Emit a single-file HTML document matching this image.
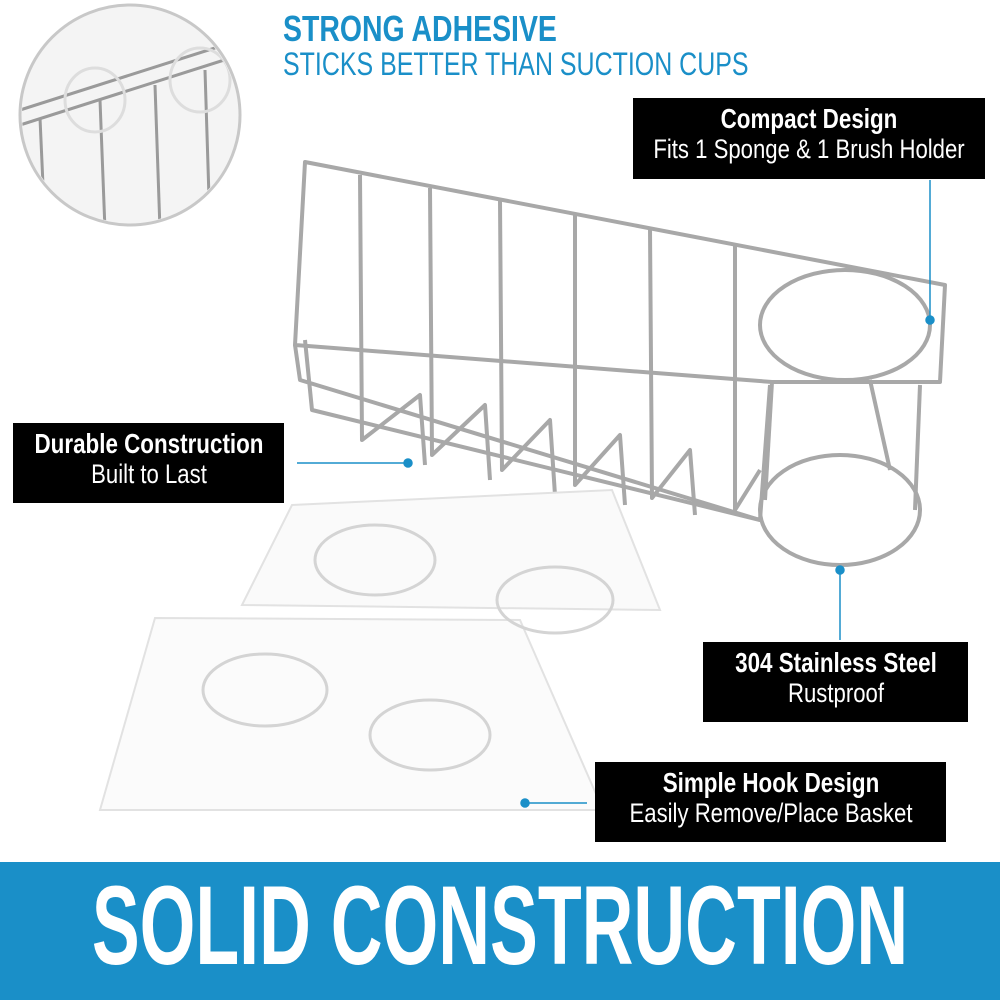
<!DOCTYPE html>
<html><head><meta charset="utf-8"><style>
body{margin:0;width:1000px;height:1000px;background:#fff;position:relative;overflow:hidden;font-family:"Liberation Sans",sans-serif}
.t{position:absolute;white-space:nowrap;transform-origin:left top}
.box{position:absolute;background:#000;color:#fff}
.box b,.box span{position:absolute;left:50%;white-space:nowrap;line-height:30px}
.box b{top:6px;font-size:28px;transform:translateX(-50%) scaleX(.8)}
.box span{top:36px;font-size:27px;transform:translateX(-50%) scaleX(.82)}
</style></head><body>
<svg width="1000" height="1000" style="position:absolute;left:0;top:0">
<defs><clipPath id="c"><circle cx="130" cy="115" r="108"/></clipPath></defs>
<circle cx="130" cy="115" r="110" fill="#f4f4f4" stroke="#c8c8c8" stroke-width="3"/>
<g clip-path="url(#c)" stroke="#9a9a9a" stroke-width="3" fill="none">
<line x1="20" y1="110" x2="240" y2="40"/><line x1="20" y1="125" x2="240" y2="55"/>
<line x1="40" y1="118" x2="45" y2="230"/><line x1="100" y1="100" x2="105" y2="230"/><line x1="155" y1="85" x2="160" y2="230"/><line x1="205" y1="70" x2="210" y2="230"/>
<ellipse cx="95" cy="100" rx="30" ry="32" stroke="#ddd"/><ellipse cx="200" cy="80" rx="30" ry="32" stroke="#ddd"/>
</g>
<g stroke="#a8a8a8" stroke-width="4" fill="none" stroke-linejoin="round">
<path d="M295 345 L305 162 L945 285 L940 382 L772 382 Z"/>
<path d="M295 345 L300 380 L760 520 L770 385"/>
<path d="M360 175 L362 440 L420 395 L425 465"/><path d="M430 188 L432 455 L485 405 L490 480"/>
<path d="M500 200 L502 470 L550 420 L555 495"/><path d="M575 215 L575 485 L620 435 L625 505"/>
<path d="M650 228 L652 498 L690 450 L695 515"/><path d="M735 245 L735 510 L760 470"/>
<path d="M305 340 L312 410 L760 520"/>
<ellipse cx="845" cy="325" rx="85" ry="55"/><ellipse cx="840" cy="510" rx="80" ry="55"/>
<line x1="920" y1="385" x2="915" y2="510"/><line x1="870" y1="380" x2="890" y2="470"/><line x1="772" y1="382" x2="765" y2="500"/>
</g>
<polygon points="292,505 612,490 660,610 242,605" fill="#fafafa" stroke="#e2e2e2" stroke-width="2"/>
<polygon points="155,618 520,620 603,810 100,810" fill="#fbfbfb" stroke="#e2e2e2" stroke-width="2"/>
<g fill="none" stroke="#d4d4d4" stroke-width="3">
<ellipse cx="375" cy="560" rx="60" ry="35"/><ellipse cx="555" cy="600" rx="58" ry="33"/>
<ellipse cx="265" cy="690" rx="62" ry="36"/><ellipse cx="430" cy="735" rx="60" ry="35"/>
</g>
<g stroke="#1a8fc8" stroke-width="1.5" fill="#1a8fc8">
<line x1="930" y1="180" x2="930" y2="320"/><circle cx="930" cy="320" r="4"/>
<line x1="297" y1="463" x2="408" y2="463"/><circle cx="408" cy="463" r="4"/>
<line x1="840" y1="570" x2="840" y2="640"/><circle cx="840" cy="570" r="4"/>
<line x1="525" y1="803" x2="587" y2="803"/><circle cx="525" cy="803" r="4"/>
</g>
<rect x="0" y="862" width="1000" height="138" fill="#1a8fc8"/>
</svg>
<div class="t" style="left:283px;top:8px;font-size:36px;font-weight:bold;color:#1a8fc8;transform:scaleX(.79)">STRONG ADHESIVE</div>
<div class="t" style="left:283px;top:46px;font-size:32px;color:#1a8fc8;transform:scaleX(.78)">STICKS BETTER THAN SUCTION CUPS</div>
<div class="box" style="left:633px;top:98px;width:352px;height:81px"><b>Compact Design</b><span>Fits 1 Sponge &amp; 1 Brush Holder</span></div>
<div class="box" style="left:13px;top:423px;width:271px;height:80px"><b>Durable Construction</b><span>Built to Last</span></div>
<div class="box" style="left:703px;top:642px;width:265px;height:80px"><b>304 Stainless Steel</b><span>Rustproof</span></div>
<div class="box" style="left:595px;top:762px;width:351px;height:80px"><b>Simple Hook Design</b><span>Easily Remove/Place Basket</span></div>
<div class="t" style="left:500px;top:866px;font-size:112px;font-weight:bold;color:#fff;transform:translateX(-50%) scaleX(.64);transform-origin:center top;line-height:120px">SOLID CONSTRUCTION</div>
</body></html>
